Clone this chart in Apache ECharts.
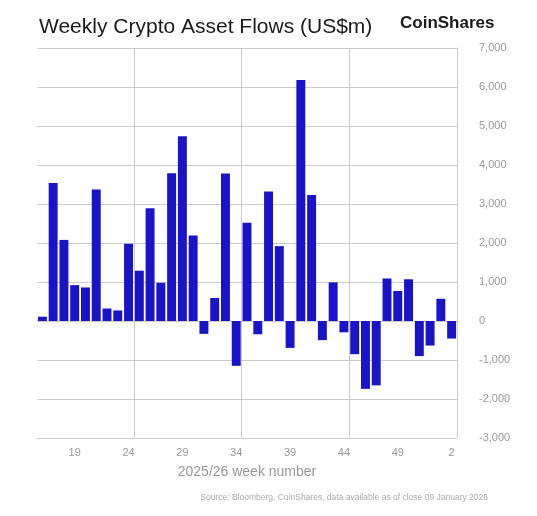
<!DOCTYPE html>
<html>
<head>
<meta charset="utf-8">
<script src="https://cdn.jsdelivr.net/npm/echarts@6/dist/echarts.min.js"></script>
<style>
html,body{margin:0;padding:0;background:#fff;}
#chart{width:537px;height:516px;}
</style>
</head>
<body>
<div id="chart"></div>
<script>
var weeks = ['16','17','18','19','20','21','22','23','24','25','26','27','28','29','30','31','32','33','34','35','36','37','38','39','40','41','42','43','44','45','46','47','48','49','50','51','52','1','2'];
var flows = [110,3540,2080,920,860,3370,320,270,1980,1290,2890,980,3790,4740,2190,-330,590,3780,-1150,2520,-340,3320,1920,-690,6180,3230,-490,990,-290,-850,-1740,-1650,1090,770,1070,-900,-630,570,-450];
var labelWeeks = ['19','24','29','34','39','44','49','2'];
var splitAfterWeeks = ['24','34','44'];

var splitIdx = splitAfterWeeks.map(function(w){ return weeks.indexOf(w) + 1; });

var chart = echarts.init(document.getElementById('chart'), null, {renderer:'canvas'});
chart.setOption({
  animation:false,
  backgroundColor:'#fff',
  title:[
    {text:'Weekly Crypto Asset Flows (US$m)', left:34, top:12,
     textStyle:{fontFamily:'Liberation Sans, Arial, sans-serif', fontSize:21, fontWeight:'normal', color:'#1a1a1a'}},
    {text:'CoinShares', left:395, top:10,
     textStyle:{fontFamily:'Liberation Sans, Arial, sans-serif', fontSize:17, fontWeight:'bold', color:'#1a1a1a'}},
    {text:'Source: Bloomberg, CoinShares, data available as of close 09 January 2026', right:44, top:488,
     textStyle:{fontFamily:'Liberation Sans, Arial, sans-serif', fontSize:8.5, fontWeight:'normal', color:'#aaaaaa'}}
  ],
  grid:{left:37, right:80, top:48, bottom:78, containLabel:false},
  xAxis:{
    type:'category',
    data:weeks,
    boundaryGap:true,
    name:'2025/26 week number',
    nameLocation:'middle',
    nameGap:27,
    nameTextStyle:{fontFamily:'Liberation Sans, Arial, sans-serif', fontSize:14, color:'#999999'},
    axisLine:{show:false},
    axisTick:{show:false},
    axisLabel:{
      interval:function(i, v){ return labelWeeks.indexOf(v) >= 0; },
      fontFamily:'Liberation Sans, Arial, sans-serif', fontSize:11, color:'#999999', margin:9
    },
    splitLine:{
      show:true,
      interval:function(i){ return splitIdx.indexOf(i) >= 0; },
      lineStyle:{color:'#cccccc', width:1}
    }
  },
  yAxis:{
    type:'value',
    position:'right',
    min:-3000, max:7000, interval:1000,
    axisLine:{show:true, lineStyle:{color:'#cccccc', width:1}},
    axisTick:{show:false},
    axisLabel:{
      fontFamily:'Liberation Sans, Arial, sans-serif', fontSize:11, color:'#999999', margin:22,
      formatter:function(v){ return v.toLocaleString('en-US'); }
    },
    splitLine:{show:true, lineStyle:{color:'#cccccc', width:1}}
  },
  series:[{
    type:'bar',
    data:flows,
    barWidth:'83%',
    itemStyle:{color:'#1a14c8'}
  }]
});
</script>
</body>
</html>
